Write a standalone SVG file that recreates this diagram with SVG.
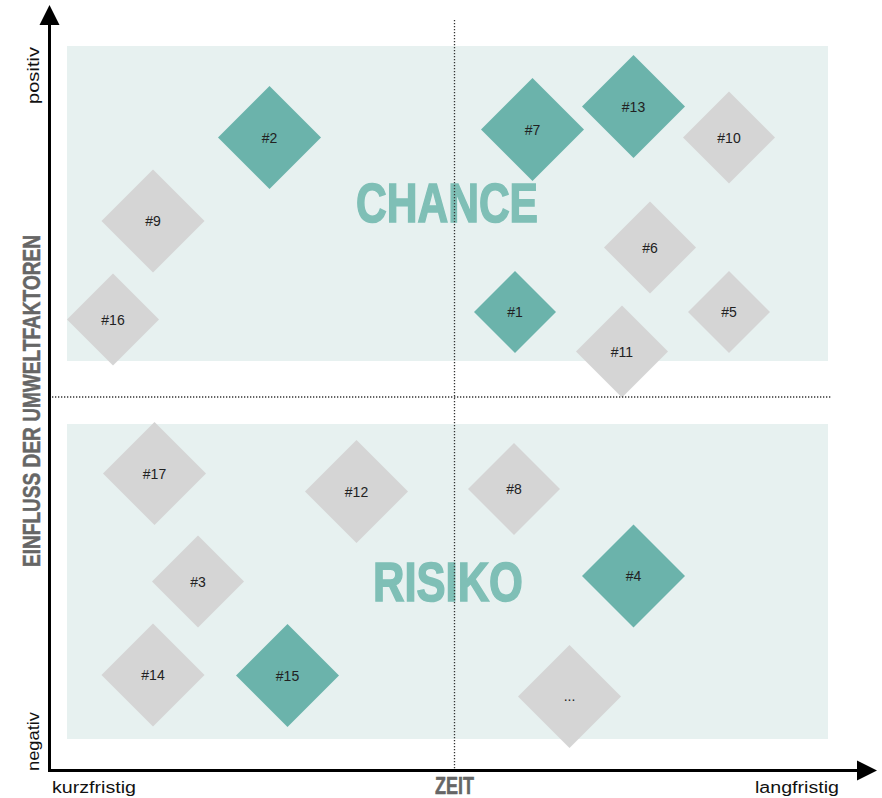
<svg xmlns="http://www.w3.org/2000/svg" width="882" height="798" viewBox="0 0 882 798">
<style>
.bg{fill:#e7f1f0}
.teal{fill:#6bb3ab}
.gray{fill:#d5d5d5}
.lbl{font-family:"Liberation Sans",Arial,sans-serif;font-size:14px;fill:#222;text-anchor:middle}
.big{font-family:"Liberation Sans",Arial,sans-serif;font-weight:bold;font-size:56px;fill:#7fbfb6;stroke:#7fbfb6;stroke-width:1.6}
.ax{font-family:"Liberation Sans",Arial,sans-serif;font-size:16px;fill:#111}
.axb{font-family:"Liberation Sans",Arial,sans-serif;font-weight:bold;font-size:23px;fill:#666;stroke:#666;stroke-width:0.5}
.dot{stroke:#333;stroke-width:1.3;stroke-dasharray:1.3 1.7;fill:none}
</style>
<rect class="bg" x="67" y="46" width="761" height="315"/>
<rect class="bg" x="67" y="424" width="761" height="315"/>
<text class="big" x="356" y="222" textLength="182" lengthAdjust="spacingAndGlyphs">CHANCE</text>
<text class="big" x="373" y="601" textLength="150" lengthAdjust="spacingAndGlyphs">RISIKO</text>
<g id="nodes">
<g id="n2"><polygon class="teal" points="269.5,86 321,137.5 269.5,189 218,137.5"/><text class="lbl" x="269.5" y="142.5">#2</text></g>
<g id="n7"><polygon class="teal" points="532.5,78 584,129.5 532.5,181 481,129.5"/><text class="lbl" x="532.5" y="134.5">#7</text></g>
<g id="n13"><polygon class="teal" points="633.5,55 685,106.5 633.5,158 582,106.5"/><text class="lbl" x="633.5" y="111.5">#13</text></g>
<g id="n10"><polygon class="gray" points="729,91.5 775,137.5 729,183.5 683,137.5"/><text class="lbl" x="729" y="142.5">#10</text></g>
<g id="n9"><polygon class="gray" points="153,169.5 204.5,221 153,272.5 101.5,221"/><text class="lbl" x="153" y="226">#9</text></g>
<g id="n6"><polygon class="gray" points="650,201.5 696,247.5 650,293.5 604,247.5"/><text class="lbl" x="650" y="252.5">#6</text></g>
<g id="n16"><polygon class="gray" points="113,273.5 159,319.5 113,365.5 67,319.5"/><text class="lbl" x="113" y="324.5">#16</text></g>
<g id="n1"><polygon class="teal" points="515,271 556,312 515,353 474,312"/><text class="lbl" x="515" y="317">#1</text></g>
<g id="n5"><polygon class="gray" points="729,271 770,312 729,353 688,312"/><text class="lbl" x="729" y="317">#5</text></g>
<g id="n11"><polygon class="gray" points="622,305.5 668,351.5 622,397.5 576,351.5"/><text class="lbl" x="622" y="356.5">#11</text></g>
<g id="n17"><polygon class="gray" points="154.5,422 206,473.5 154.5,525 103,473.5"/><text class="lbl" x="154.5" y="478.5">#17</text></g>
<g id="n12"><polygon class="gray" points="356.5,440 408,491.5 356.5,543 305,491.5"/><text class="lbl" x="356.5" y="496.5">#12</text></g>
<g id="n8"><polygon class="gray" points="514,443 560,489 514,535 468,489"/><text class="lbl" x="514" y="494">#8</text></g>
<g id="n3"><polygon class="gray" points="198,535.5 244,581.5 198,627.5 152,581.5"/><text class="lbl" x="198" y="586.5">#3</text></g>
<g id="n4"><polygon class="teal" points="633.5,524.5 685,576 633.5,627.5 582,576"/><text class="lbl" x="633.5" y="581">#4</text></g>
<g id="n14"><polygon class="gray" points="153,623.5 204.5,675 153,726.5 101.5,675"/><text class="lbl" x="153" y="680">#14</text></g>
<g id="n15"><polygon class="teal" points="287.5,624 339,675.5 287.5,727 236,675.5"/><text class="lbl" x="287.5" y="680.5">#15</text></g>
<g id="nmore"><polygon class="gray" points="569.5,645 621,696.5 569.5,748 518,696.5"/><text class="lbl" x="569.5" y="701">...</text></g>
</g>
<g id="connectors">
<line class="dot" x1="454.5" y1="20" x2="454.5" y2="769"/>
<line class="dot" x1="52" y1="397" x2="832" y2="397"/>
<line x1="49.5" y1="772" x2="49.5" y2="22" stroke="#000" stroke-width="3"/>
<polygon points="49.5,5 59.5,25 39.5,25" fill="#000"/>
<line x1="48" y1="770.5" x2="860" y2="770.5" stroke="#000" stroke-width="3"/>
<polygon points="877,770.5 857,760.5 857,780.5" fill="#000"/>
</g>
<g id="labels">
<text class="ax" x="52" y="793" textLength="84" lengthAdjust="spacingAndGlyphs">kurzfristig</text>
<text class="ax" x="755" y="793" textLength="84" lengthAdjust="spacingAndGlyphs">langfristig</text>
<text class="axb" x="435" y="794" textLength="39" lengthAdjust="spacingAndGlyphs">ZEIT</text>
<text class="ax" transform="translate(39,104) rotate(-90)" textLength="57" lengthAdjust="spacingAndGlyphs">positiv</text>
<text class="ax" transform="translate(39,771) rotate(-90)" textLength="59" lengthAdjust="spacingAndGlyphs">negativ</text>
<text class="axb" transform="translate(40,567) rotate(-90)" textLength="332" lengthAdjust="spacingAndGlyphs">EINFLUSS DER UMWELTFAKTOREN</text>
</g>
</svg>
